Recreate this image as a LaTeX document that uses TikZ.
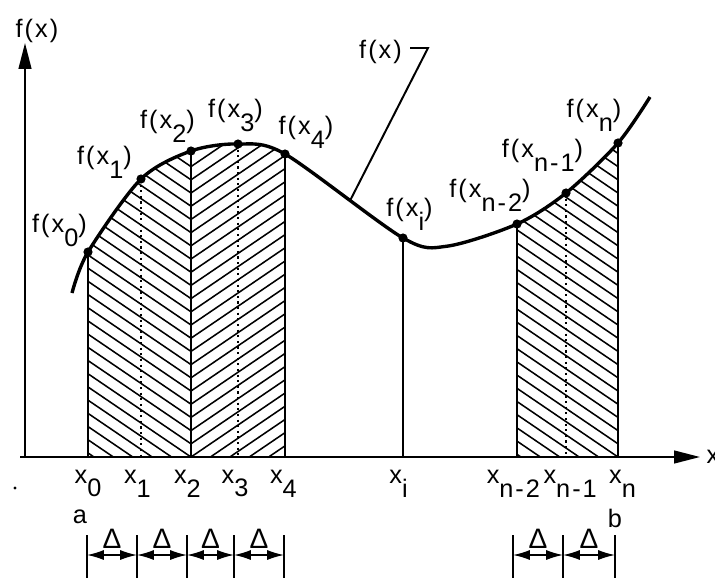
\documentclass[tikz,border=0pt]{standalone}
\usepackage{fontspec}
\setmainfont{Liberation Sans}[LetterSpace=8]
\usetikzlibrary{arrows.meta,positioning,intersections}
\newcommand{\lo}[1]{\raisebox{-0.55em}{#1}}
\def\fgraph{plot[smooth] coordinates {(fa) (f0) (f1) (f2) (f3) (f4) (fi) (fl) (fn2) (fn1) (fn) (fb)}}

\begin{document}
\begin{tikzpicture}[font=\fontsize{18}{21}\selectfont,
    axis/.style={line width=1.4pt, -{Triangle[length=6.5mm,width=3.2mm]}},
    graph/.style={line width=2.4pt},
    ord/.style={line width=1.4pt},
    ordd/.style={line width=1.5pt, dash pattern=on 1.5pt off 2.5pt},
    hatch/.style={line width=1.1pt},
    dot/.style={circle, fill, inner sep=0pt, minimum size=2.3mm},
    dim/.style={line width=1pt, {Latex[length=4.2mm,width=2.5mm]}-{Latex[length=4.2mm,width=2.5mm]}},
    lab/.style={inner sep=1pt}]

    \useasboundingbox (-0.625,-3) rectangle (17.25,11.425);

    % Axes
    \coordinate (O) at (0,0);
    \coordinate (xs) at (-0.125,0);
    \coordinate (xe) at (16.875,0);
    \coordinate (ye) at (0,10.35);
    \draw[axis] (xs) -- (xe);
    \draw[axis] (O) -- (ye);
    \node[lab] (ylab) at (0.3,10.65) {f(x)};
    \node[lab, anchor=west] (xlab) at (17.0,0) {x};

    % Points on f(x)
    \foreach \n/\x/\y in {fa/1.175/4.1, f0/1.575/5.125, f1/2.9/6.95, f2/4.15/7.65, f3/5.325/7.825,
        f4/6.5/7.575, fi/9.45/5.475, fl/10.55/5.27, fn2/12.3/5.825,
        fn1/13.525/6.6, fn/14.825/7.85, fb/15.625/9.0} {
        \coordinate (\n) at (\x,\y);
    }

    % Hatching
    \begin{scope}
        \clip (f0 |- O) rectangle (4.15,9);
        \clip \fgraph -- (fb |- O) -- (fa |- O) -- cycle;
        \foreach \k in {-6,...,24} { \draw[hatch] (4.15,\k*0.33) -- ++(-2.7,1.836); }
    \end{scope}
    \begin{scope}
        \clip (f2 |- O) rectangle (6.5,9);
        \clip \fgraph -- (fb |- O) -- (fa |- O) -- cycle;
        \foreach \k in {-6,...,24} { \draw[hatch] (4.15,\k*0.33) -- ++(2.5,1.7); }
    \end{scope}
    \begin{scope}
        \clip (fn2 |- O) rectangle (14.825,9);
        \clip \fgraph -- (fb |- O) -- (fa |- O) -- cycle;
        \foreach \k in {-6,...,25} { \draw[hatch] (14.825,\k*0.33) -- ++(-2.7,1.836); }
    \end{scope}

    % Ordinates
    \foreach \n in {f0,f2,f4,fi,fn2,fn} { \draw[ord] (\n) -- (\n |- O); }
    \foreach \n in {f1,f3,fn1} { \draw[ordd] (\n) -- (\n |- O); }

    % Curve
    \draw[graph, name path=graph] \fgraph;
    \foreach \n in {f0,f1,f2,f3,f4,fi,fn2,fn1,fn} { \node[dot] (d\n) at (\n) {}; }

    % Values of f
    \foreach \n/\t/\x/\y in {l0/0/0.863/5.675, l1/1/1.988/7.363, l2/2/3.563/8.263,
        l3/3/5.263/8.538, l4/4/7.025/8.113, li/i/9.613/6.075, ln2/n-2/11.625/6.55,
        ln1/n-1/12.938/7.55, ln/n/14.225/8.55} {
        \node[lab] (\n) at (\x,\y) {f(x\lo{\t})};
    }

    % Leader to the curve
    \node[lab] (lf) at (8.888,10.138) {f(x)};
    \coordinate (ls) at (9.625,10.225);
    \coordinate (kink) at (10.075,10.225);
    \path[name path=lead] (kink) -- (7.8,5.77);
    \path[name intersections={of=graph and lead, by=fm}];
    \draw[ord] (ls) -- (kink) -- (fm);

    % Abscissae
    \foreach \n/\t/\x in {x0/0/1.575, x1/1/2.81, x2/2/4.06, x3/3/5.25, x4/4/6.46,
        xi/i/9.34, xn2/n-2/12.21, xn1/n-1/13.63, xn/n/14.94} {
        \node[lab] (\n) at (\x,-0.66) {x\lo{\t}};
    }
    \node[lab] (a) at (1.375,-1.49) {a};
    \node[lab] (b) at (14.75,-1.54) {b};
    \fill (-0.25,-0.775) circle (0.04);

    % Widths
    \foreach \n/\x in {t0/1.55, t1/2.8, t2/4.05, t3/5.225, t4/6.475, u0/12.2, u1/13.45, u2/14.75} {
        \draw[ord] (\x,-1.95) -- (\x,-3.1);
        \coordinate (\n) at (\x,-2.45);
    }
    \foreach \a/\b in {t0/t1, t1/t2, t2/t3, t3/t4, u0/u1, u1/u2} {
        \draw[dim] (\a) -- node[above=3pt, inner sep=1pt, font=\fontsize{20}{24}\selectfont] (w\a) {Δ} (\b);
    }
\end{tikzpicture}
\end{document}
